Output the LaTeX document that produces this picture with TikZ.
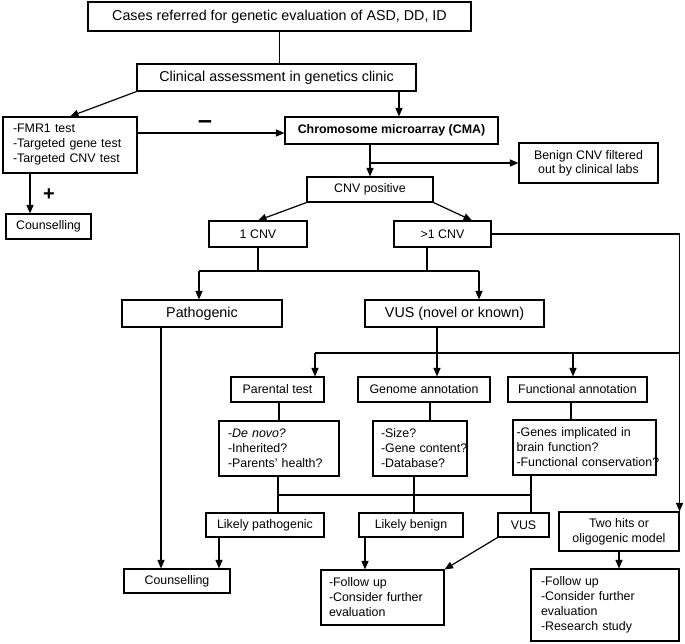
\documentclass[tikz,border=0pt]{standalone}
\usepackage{fontspec}
\setmainfont{Liberation Sans}
\usetikzlibrary{arrows.meta,calc}
\newcommand\bigf{\fontsize{14.3}{17}\selectfont}
\newcommand\smf{\fontsize{12.4}{15}\selectfont}
\begin{document}
\begin{tikzpicture}[x=1pt,y=-1pt,
  box/.style={draw, line width=1.1pt, inner sep=0pt, font=\smf, align=center},
  lbox/.style={box, align=left},
  ln/.style={line width=1.2pt},
  arr/.style={ln, -{Triangle[length=8.5pt,width=7pt]}},
  sign/.style={inner sep=0pt, font=\fontsize{#1}{#1}\selectfont\bfseries}
]
\useasboundingbox (0,0) rectangle (685,644);

% boxes
\node[box, font=\bigf, minimum width=383pt, minimum height=29pt] (top) at (279.5,16.5) {Cases referred for genetic evaluation of ASD, DD, ID};
\node[box, font=\bigf, minimum width=279pt, minimum height=27pt] (clin) at (276.5,77.5) {Clinical assessment in genetics clinic};
\node[lbox, text width=114pt, inner xsep=10pt, minimum height=56pt] (fmr) at (70,145) {-FMR1 test\\-Targeted gene test\\-Targeted CNV test};
\node[box, font=\smf\bfseries, minimum width=213pt, minimum height=27pt] (cma) at (391.5,130.5) {Chromosome microarray (CMA)};
\node[box, minimum width=85pt, minimum height=25pt] (couns1) at (48.5,226.5) {Counselling};
\node[box, minimum width=139pt, minimum height=40pt, font=\fontsize{12.4}{14.3}\selectfont] (benign) at (588.5,163) {Benign CNV filtered\\out by clinical labs};
\node[box, minimum width=126pt, minimum height=25pt] (cnvpos) at (370,189.5) {CNV positive};
\node[box, minimum width=98pt, minimum height=26pt] (one) at (258,234) {1 CNV};
\node[box, minimum width=97pt, minimum height=26pt] (more) at (442.5,234) {>1 CNV};
\node[box, font=\bigf, minimum width=160pt, minimum height=27pt] (path) at (202,313.5) {Pathogenic};
\node[box, font=\bigf, minimum width=179pt, minimum height=27pt] (vus) at (454.5,313.5) {VUS (novel or known)};
\node[box, minimum width=93pt, minimum height=25pt] (parent) at (277.5,389.5) {Parental test};
\node[box, minimum width=132pt, minimum height=25pt] (genome) at (424,389.5) {Genome annotation};
\node[box, minimum width=139pt, minimum height=25pt] (func) at (577.5,389.5) {Functional annotation};
\node[lbox, text width=102pt, inner xsep=9pt, minimum height=55pt] (pdet) at (279,448.5) {-\textit{De novo?}\\-Inherited?\\-Parents’ health?};
\node[lbox, text width=78pt, inner xsep=8pt, minimum height=55pt] (gdet) at (420,448.5) {-Size?\\\mbox{-Gene content?}\\-Database?};
\node[lbox, text width=136pt, inner xsep=3.5pt, minimum height=55pt] (fdet) at (584.5,447.5) {-Genes implicated in\\brain function?\\\mbox{-Functional conservation?}};
\node[box, minimum width=118pt, minimum height=24pt] (lpath) at (265,525) {Likely pathogenic};
\node[box, minimum width=104pt, minimum height=24pt] (lben) at (411,525) {Likely benign};
\node[box, minimum width=51pt, minimum height=24pt] (vus2) at (523.5,525) {VUS};
\node[box, minimum width=120pt, minimum height=39pt] (two) at (619,531.5) {Two hits or\\oligogenic model};
\node[box, minimum width=106pt, minimum height=24pt] (couns2) at (177,581) {Counselling};
\node[lbox, text width=107pt, inner xsep=8pt, minimum height=55pt] (fol1) at (382.5,597.5) {-Follow up\\-Consider further\\evaluation};
\node[lbox, text width=128pt, inner xsep=10pt, minimum height=72pt] (fol2) at (605,605) {-Follow up\\-Consider further\\evaluation\\-Research study};

% signs
\node[sign=25] (minus) at (205,125) {–};
\node[sign=20] (plus) at (49,195) {+};

% helper coordinates
\coordinate (x399) at (399,0);
\coordinate (y133) at (0,133);
\coordinate (x30) at (30,0);
\coordinate (x472) at (472,0);
\coordinate (x427) at (427,0);
\coordinate (s1) at (199,271);
\coordinate (s2) at (479,271);
\coordinate (x161) at (161,0);
\coordinate (x437) at (437,0);
\coordinate (h1) at (315,353);
\coordinate (h2) at (573,353);
\coordinate (x430) at (430,0);
\coordinate (x571) at (571,0);
\coordinate (k1) at (278,495);
\coordinate (k2) at (414,495);
\coordinate (k3) at (531,495);
\coordinate (x219) at (219,0);
\coordinate (x365) at (365,0);

% connectors
\draw[ln] (top.south) -- (top.south |- clin.north);
\draw[arr] (clin.south west) -- (fmr.north);
\draw[arr] (clin.south -| x399) -- (cma.north -| x399);
\draw[arr] (fmr.east |- y133) -- (cma.west |- y133);
\draw[arr] (fmr.south -| x30) -- (couns1.north -| x30);
\draw[arr] (cnvpos.north |- cma.south) -- (cnvpos.north);
\draw[arr] (cnvpos.north |- benign.west) -- (benign.west);
\draw[arr] (cnvpos.south west) -- (one.north);
\draw[arr] (cnvpos.south east) -- (more.north -| x472);
\draw[arr] (more.east) -| (two.north east);
\draw[ln] (one.south) -- (one.south |- s1);
\draw[ln] (more.south -| x427) -- (s1 -| x427);
\draw[ln] (s1) -- (s2);
\draw[arr] (s1) -- (path.north -| s1);
\draw[arr] (s2) -- (vus.north -| s2);
\draw[arr] (path.south -| x161) -- (couns2.north -| x161);
\draw[arr] (vus.south -| x437) -- (genome.north -| x437);
\draw[ln] (h1) -- (h1 -| two.north east);
\draw[arr] (h1) -- (parent.north -| h1);
\draw[arr] (h2) -- (func.north -| h2);
\draw[ln] (parent.south -| pdet.north) -- (pdet.north);
\draw[ln] (genome.south -| x430) -- (gdet.north -| x430);
\draw[ln] (func.south -| x571) -- (fdet.north -| x571);
\draw[ln] (pdet.south -| k1) -- (lpath.north -| k1);
\draw[ln] (gdet.south -| k2) -- (lben.north -| k2);
\draw[ln] (fdet.south -| k3) -- (vus2.north -| k3);
\draw[ln] (k1) -- (k3);
\draw[arr] (lpath.south -| x219) -- (couns2.north -| x219);
\draw[arr] (lben.south -| x365) -- (fol1.north -| x365);
\draw[arr] (vus2.south west) -- (fol1.north east);
\draw[arr] (two.south) -- (fol2.north -| two.south);
\end{tikzpicture}
\end{document}
